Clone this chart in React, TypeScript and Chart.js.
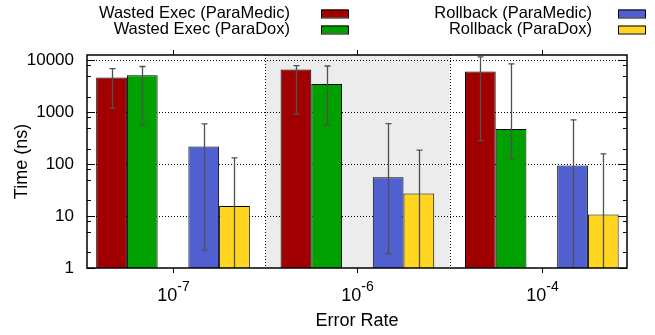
import React, { useEffect, useRef } from 'react';
import { Chart, registerables } from 'chart.js';

Chart.register(...registerables);

// ---------- data ----------
const categoryBase = ['10', '10', '10'];
const categoryExponent = ['-7', '-6', '-4'];
const seriesNames = [
  'Wasted Exec (ParaMedic)',
  'Wasted Exec (ParaDox)',
  'Rollback (ParaMedic)',
  'Rollback (ParaDox)',
];
const wastedParaMedic = [4650, 6630, 6060];
const wastedParaMedicLow = [1195, 925, 285];
const wastedParaMedicHigh = [6900, 7890, 11600];
const wastedParaDox = [5140, 3500, 477];
const wastedParaDoxLow = [563, 563, 125];
const wastedParaDoxHigh = [7600, 7770, 8500];
const rollbackParaMedic = [219, 56, 94.5];
const rollbackParaMedicLow = [2.2, 1.9, 0.5];
const rollbackParaMedicHigh = [596, 605, 712];
const rollbackParaDox = [15.6, 27.3, 10.7];
const rollbackParaDoxLow = [0.5, 0.5, 0.5];
const rollbackParaDoxHigh = [132, 186, 158];
const yMajorTicks = [1, 10, 100, 1000, 10000];
const yMinorTicks = [2, 5, 8, 20, 50, 80, 200, 500, 800, 2000, 5000, 8000];
const shadedCategory = 1;

// ---------- style ----------
const COLORS = ['#a00000', '#00a000', '#5060d0', '#ffd520'];
const FONT = '"Liberation Sans", Arial, Helvetica, sans-serif';
const X_MIN = -0.4664;
const X_MAX = 2.462;
const Y_MAX = 12650;

const values = [wastedParaMedic, wastedParaDox, rollbackParaMedic, rollbackParaDox];
const lows = [wastedParaMedicLow, wastedParaDoxLow, rollbackParaMedicLow, rollbackParaDoxLow];
const highs = [wastedParaMedicHigh, wastedParaDoxHigh, rollbackParaMedicHigh, rollbackParaDoxHigh];
// dataset index of each series (index 2 is an empty spacer slot)
const datasetIndexOf = [0, 1, 3, 4];

const decorPlugin = {
  id: 'decor',
  beforeDatasetsDraw(chart: any) {
    const { ctx, chartArea: a, scales } = chart;
    const x = scales.x, y = scales.y;
    ctx.save();
    const s0 = x.getPixelForValue(shadedCategory - 0.5);
    const s1 = x.getPixelForValue(shadedCategory + 0.5);
    ctx.fillStyle = '#ececec';
    ctx.fillRect(s0, a.top, s1 - s0, a.bottom - a.top);
    ctx.strokeStyle = '#000';
    ctx.lineWidth = 1;
    ctx.setLineDash([1, 2]);
    for (const v of yMajorTicks.slice(1)) {
      const py = Math.round(y.getPixelForValue(v)) + 0.5;
      ctx.beginPath();
      ctx.moveTo(a.left, py);
      ctx.lineTo(a.right, py);
      ctx.stroke();
    }
    for (const px0 of [s0, s1]) {
      const px = Math.round(px0) + 0.5;
      ctx.beginPath();
      ctx.moveTo(px, a.top);
      ctx.lineTo(px, a.bottom);
      ctx.stroke();
    }
    ctx.restore();
  },
  afterDatasetsDraw(chart: any) {
    const { ctx, chartArea: a, scales } = chart;
    const x = scales.x, y = scales.y;
    ctx.save();
    // error bars
    ctx.strokeStyle = '#505050';
    ctx.lineWidth = 1.3;
    values.forEach((_, s) => {
      const meta = chart.getDatasetMeta(datasetIndexOf[s]);
      meta.data.forEach((bar: any, i: number) => {
        const cx = Math.round(bar.x) + 0.5;
        const lo = lows[s][i], hi = highs[s][i];
        const pyHi = y.getPixelForValue(hi);
        const loIn = lo >= 1;
        const pyLo = loIn ? y.getPixelForValue(lo) : a.bottom;
        ctx.beginPath();
        ctx.moveTo(cx, pyHi);
        ctx.lineTo(cx, pyLo);
        ctx.moveTo(cx - 3, pyHi);
        ctx.lineTo(cx + 3, pyHi);
        if (loIn) {
          ctx.moveTo(cx - 3, pyLo);
          ctx.lineTo(cx + 3, pyLo);
        }
        ctx.stroke();
      });
    });
    // border
    ctx.strokeStyle = '#000';
    ctx.lineWidth = 1.5;
    ctx.strokeRect(a.left, a.top, a.right - a.left, a.bottom - a.top);
    // y ticks (inward, both sides)
    ctx.lineWidth = 1;
    const drawYTick = (v: number, len: number) => {
      const py = Math.round(y.getPixelForValue(v)) + 0.5;
      ctx.beginPath();
      ctx.moveTo(a.left, py);
      ctx.lineTo(a.left + len, py);
      ctx.moveTo(a.right, py);
      ctx.lineTo(a.right - len, py);
      ctx.stroke();
    };
    yMajorTicks.forEach((v) => drawYTick(v, 8));
    yMinorTicks.forEach((v) => drawYTick(v, 4));
    // x ticks (outward, top and bottom) and labels
    categoryBase.forEach((base, i) => {
      const px = Math.round(x.getPixelForValue(i)) + 0.5;
      ctx.strokeStyle = '#000';
      ctx.beginPath();
      ctx.moveTo(px, a.bottom);
      ctx.lineTo(px, a.bottom + 5);
      ctx.moveTo(px, a.top);
      ctx.lineTo(px, a.top - 5);
      ctx.stroke();
      ctx.fillStyle = '#000';
      ctx.textBaseline = 'alphabetic';
      ctx.textAlign = 'left';
      ctx.font = `18px ${FONT}`;
      const wb = ctx.measureText(base).width;
      ctx.font = `14px ${FONT}`;
      const we = ctx.measureText(categoryExponent[i]).width;
      const start = px - (wb + we) / 2;
      ctx.font = `18px ${FONT}`;
      ctx.fillText(base, start, 301);
      ctx.font = `14px ${FONT}`;
      ctx.fillText(categoryExponent[i], start + wb, 291);
    });
    ctx.restore();
  },
  afterDraw(chart: any) {
    const { ctx } = chart;
    ctx.save();
    ctx.font = `16.5px ${FONT}`;
    ctx.textAlign = 'right';
    ctx.textBaseline = 'alphabetic';
    const cols = [
      { textRight: 290, boxLeft: 321 },
      { textRight: 592, boxLeft: 618 },
    ];
    seriesNames.forEach((name, s) => {
      const col = cols[Math.floor(s / 2)];
      const row = s % 2;
      const baseline = 18 + row * 16;
      ctx.fillStyle = '#000';
      ctx.fillText(name, col.textRight, baseline);
      ctx.fillStyle = COLORS[s];
      ctx.fillRect(col.boxLeft, baseline - 8.5, 27, 8);
      ctx.strokeStyle = '#000';
      ctx.lineWidth = 1;
      ctx.strokeRect(col.boxLeft + 0.5, baseline - 8.5 + 0.5, 27, 8);
    });
    ctx.restore();
  },
};

export default function App() {
  const canvasRef = useRef<HTMLCanvasElement>(null);

  useEffect(() => {
    if (!canvasRef.current) return;
    const mk = (s: number) =>
      values[s].map((v, i) => ({ x: i, y: v }));
    const ds = (s: number) => ({
      label: seriesNames[s],
      data: mk(s),
      backgroundColor: COLORS[s],
      borderColor: '#000',
      borderWidth: 1,
      borderSkipped: 'start' as const,
    });
    const chart = new Chart(canvasRef.current, {
      type: 'bar',
      data: {
        datasets: [
          ds(0),
          ds(1),
          { label: '', data: [], backgroundColor: 'rgba(0,0,0,0)' },
          ds(2),
          ds(3),
        ] as any,
      },
      options: {
        animation: false,
        responsive: false,
        maintainAspectRatio: false,
        layout: { padding: { left: 0, right: 28, top: 55, bottom: 0 } },
        plugins: { legend: { display: false }, tooltip: { enabled: false } },
        datasets: { bar: { categoryPercentage: 5 / 6, barPercentage: 1 } },
        scales: {
          x: {
            type: 'linear',
            min: X_MIN,
            max: X_MAX,
            offset: false,
            grid: { display: false, drawTicks: false },
            border: { display: false },
            ticks: { display: false },
            afterBuildTicks: (s: any) => {
              s.ticks = categoryBase.map((_, i) => ({ value: i }));
            },
            afterFit: (s: any) => {
              s.height = 67;
            },
            title: {
              display: true,
              text: 'Error Rate',
              color: '#000',
              font: { family: FONT, size: 18 },
              padding: { top: 0, bottom: 3 },
            },
          },
          y: {
            type: 'logarithmic',
            min: 1,
            max: Y_MAX,
            grid: { display: false, drawTicks: false },
            border: { display: false },
            afterBuildTicks: (s: any) => {
              s.ticks = yMajorTicks.map((v) => ({ value: v, major: true }));
            },
            afterFit: (s: any) => {
              s.width = 87;
            },
            ticks: {
              color: '#000',
              padding: 13,
              autoSkip: false,
              font: { family: FONT, size: 17 },
              callback: (v: any) => String(v),
            },
            title: {
              display: true,
              text: 'Time (ns)',
              color: '#000',
              font: { family: FONT, size: 18 },
              padding: { top: 11, bottom: 0 },
            },
          },
        },
      } as any,
      plugins: [decorPlugin],
    });
    return () => chart.destroy();
  }, []);

  return (
    <div style={{ position: 'absolute', left: 0, top: 0, width: 655, height: 335, background: '#fff' }}>
      <canvas ref={canvasRef} width={655} height={335} style={{ display: 'block', width: 655, height: 335 }} />
    </div>
  );
}
